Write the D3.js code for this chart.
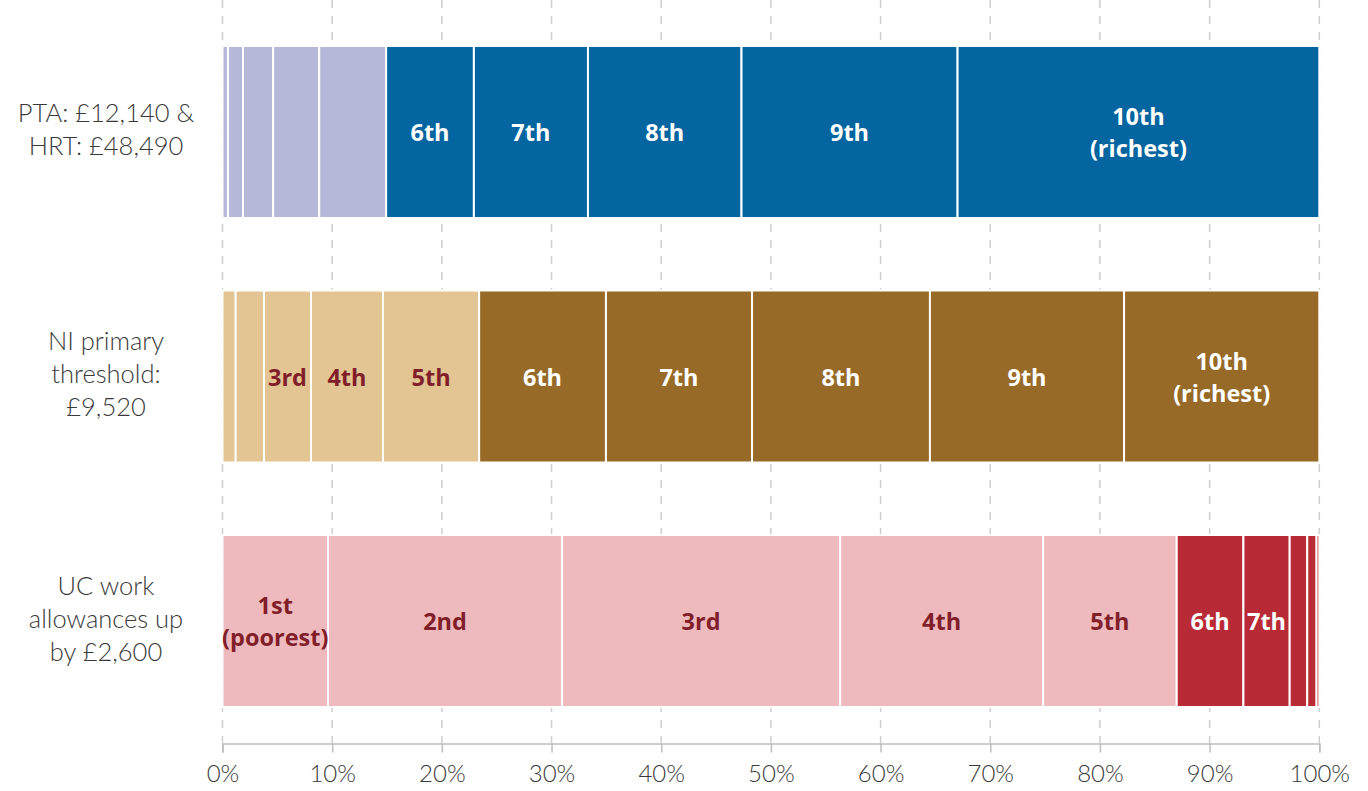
<!DOCTYPE html>
<html><head><meta charset="utf-8">
<script src="https://cdn.jsdelivr.net/npm/d3@7"></script>
<style>body{margin:0;background:#fff}svg{display:block}</style>
</head><body>
<script>
const categories = ["PTA", "NI", "UC"];
const categoryLabels = [["PTA: £12,140 &", "HRT: £48,490"], ["NI primary", "threshold:", "£9,520"], ["UC work", "allowances up", "by £2,600"]];
const decileNames = ["1st", "2nd", "3rd", "4th", "5th", "6th", "7th", "8th", "9th", "10th"];
const ptaShares = [0.5, 1.37, 2.75, 4.2, 6.1, 8.0, 10.4, 14.0, 19.7, 32.98];
const niShares = [1.2, 2.58, 4.29, 6.56, 8.77, 11.56, 13.32, 16.22, 17.7, 17.8];
const ucShares = [9.62, 21.34, 25.35, 18.51, 12.18, 6.08, 4.22, 1.6, 0.85, 0.25];
const ptaLabels = ["", "", "", "", "", "6th", "7th", "8th", "9th", "10th\n(richest)"];
const niLabels = ["", "", "3rd", "4th", "5th", "6th", "7th", "8th", "9th", "10th\n(richest)"];
const ucLabels = ["1st\n(poorest)", "2nd", "3rd", "4th", "5th", "6th", "7th", "", "", ""];
const ticks = [0, 10, 20, 30, 40, 50, 60, 70, 80, 90, 100];
const lightColors = ["#b5b8d8", "#e3c493", "#efbabe"];
const darkColors = ["#0565a0", "#986a27", "#b82a35"];

const W = 1368, H = 791;
const svg = d3.select("body").append("svg").attr("width", W).attr("height", H);
const x = d3.scaleLinear().domain([0, 100]).range([222.5, 1319.3]);
const yb = d3.scalePoint().domain(categories).range([46, 535]);
const bh = 172;

// grid
svg.append("g").selectAll("line").data(ticks).join("line")
  .attr("x1", d => x(d)).attr("x2", d => x(d)).attr("y1", 0).attr("y2", 743)
  .attr("stroke", "#cfcfcf").attr("stroke-width", 1.5).attr("stroke-dasharray", "8,8");

const allShares = [ptaShares, niShares, ucShares];
const allLabels = [ptaLabels, niLabels, ucLabels];

allShares.forEach((shares, ci) => {
  let cum = 0;
  const segs = shares.map((v, i) => { const s = {start: cum, end: cum + v, i, label: allLabels[ci][i]}; cum += v; return s; });
  const g = svg.append("g");
  const top = yb(categories[ci]);
  g.selectAll("rect").data(segs).join("rect")
    .attr("x", d => x(d.start)).attr("width", d => x(d.end) - x(d.start))
    .attr("y", top).attr("height", bh)
    .attr("fill", d => d.i < 5 ? lightColors[ci] : darkColors[ci])
    .attr("stroke", "#fff").attr("stroke-width", 2);
  const cy = top + bh / 2;
  segs.forEach(d => {
    if (!d.label) return;
    const lines = d.label.split("\n");
    const t = g.append("text").attr("text-anchor", "middle")
      .attr("font-family", "'Open Sans', sans-serif").attr("font-weight", 700).attr("font-size", 23.5)
      .attr("fill", d.i < 5 ? "#801e2a" : "#ffffff");
    const xc = (x(d.start) + x(d.end)) / 2;
    lines.forEach((ln, li) => {
      t.append("tspan").attr("x", xc).attr("y", cy + 1 + (li - (lines.length - 1) / 2) * 32).attr("dy", "0.35em").text(ln);
    });
  });
  const lab = svg.append("text").attr("text-anchor", "middle")
    .attr("font-family", "Lato, 'Open Sans', sans-serif").attr("font-weight", 300).attr("font-size", 25.5)
    .attr("fill", "#3a3a3a");
  const L = categoryLabels[ci];
  L.forEach((ln, li) => {
    lab.append("tspan").attr("x", 106).attr("y", cy - 2 + (li - (L.length - 1) / 2) * 33).attr("dy", "0.35em").text(ln);
  });
});

// axis
const axis = d3.axisBottom(x).tickValues(ticks).tickFormat(d => d + "%").tickSize(9).tickPadding(12);
const ag = svg.append("g").attr("transform", "translate(0,743.5)").call(axis);
ag.select(".domain").attr("stroke", "#bdbdbd").attr("stroke-width", 1.5);
ag.selectAll(".tick line").attr("stroke", "#bdbdbd").attr("stroke-width", 1.5);
ag.selectAll(".tick text").attr("font-family", "Lato, 'Open Sans', sans-serif").attr("font-weight", 300)
  .attr("font-size", 24).attr("fill", "#3a3a3a");
</script>
</body></html>
